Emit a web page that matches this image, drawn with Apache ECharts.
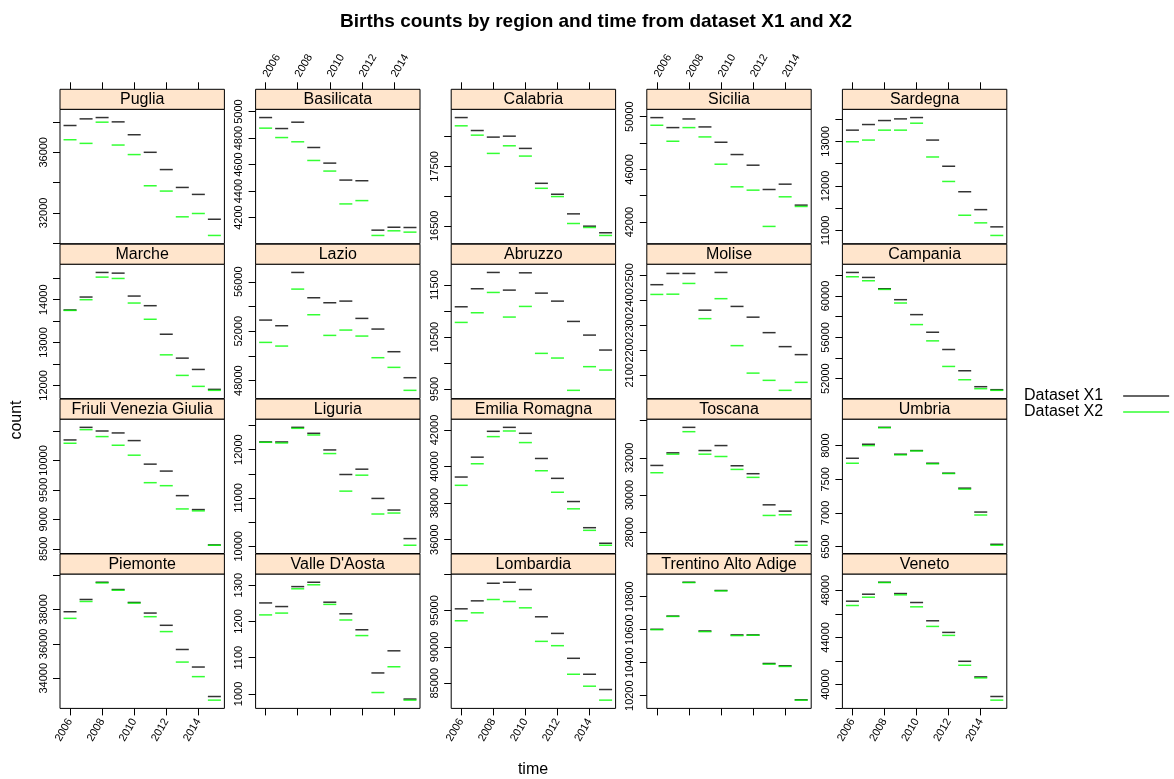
<!DOCTYPE html>
<html><head><meta charset="utf-8">
<script src="https://cdn.jsdelivr.net/npm/echarts@6/dist/echarts.min.js"></script>
<style>html,body{margin:0;padding:0;background:#fff}#c{width:1174px;height:779px}</style>
</head><body><div id="c"></div>
<script>
// ---------------- DATA ----------------
const years = [2006, 2007, 2008, 2009, 2010, 2011, 2012, 2013, 2014, 2015];
const xTickValues = [2006, 2008, 2010, 2012, 2014];
const regions = ['Piemonte', "Valle D'Aosta", 'Lombardia', 'Trentino Alto Adige', 'Veneto',
  'Friuli Venezia Giulia', 'Liguria', 'Emilia Romagna', 'Toscana', 'Umbria',
  'Marche', 'Lazio', 'Abruzzo', 'Molise', 'Campania',
  'Puglia', 'Basilicata', 'Calabria', 'Sicilia', 'Sardegna'];

const piemonteX1 = [37865, 38577, 39577, 39154, 38404, 37788, 37077, 35673, 34654, 32942];
const piemonteX2 = [37481, 38461, 39538, 39115, 38365, 37577, 36712, 34942, 34096, 32731];
const valleAostaX1 = [1251, 1241, 1296, 1308, 1253, 1221, 1177, 1058, 1119, 986];
const valleAostaX2 = [1218, 1223, 1290, 1301, 1247, 1204, 1161, 1004, 1075, 983];
const lombardiaX1 = [95228, 96324, 98744, 98881, 97877, 94132, 91849, 88425, 86233, 84133];
const lombardiaX2 = [93585, 94680, 96507, 96233, 95365, 90754, 90160, 86233, 84590, 82672];
const trentinoX1 = [10602, 10682, 10887, 10592, 10837, 10568, 10568, 10395, 10381, 10175];
const trentinoX2 = [10600, 10680, 10885, 10588, 10835, 10564, 10566, 10391, 10377, 10173];
const venetoX1 = [47070, 47662, 48676, 47718, 46958, 45408, 44422, 41972, 40648, 38986];
const venetoX2 = [46704, 47408, 48648, 47606, 46592, 44930, 44169, 41634, 40563, 38676];
const friuliX1 = [10349, 10563, 10501, 10468, 10338, 9938, 9820, 9403, 9166, 8565];
const friuliX2 = [10293, 10524, 10406, 10259, 10090, 9623, 9572, 9177, 9144, 8560];
const liguriaX1 = [12158, 12158, 12460, 12337, 11993, 11485, 11595, 10990, 10750, 10159];
const liguriaX2 = [12151, 12137, 12440, 12302, 11918, 11141, 11471, 10668, 10688, 10022];
const emiliaX1 = [39425, 40513, 41927, 42145, 41819, 40441, 39353, 38084, 36652, 35800];
const emiliaX2 = [38972, 40151, 41637, 41946, 41311, 39770, 38592, 37685, 36507, 35691];
const toscanaX1 = [31591, 32267, 33636, 32391, 32658, 31573, 31147, 29476, 29138, 27502];
const toscanaX2 = [31200, 32196, 33404, 32196, 32071, 31378, 30951, 28906, 28942, 27306];
const umbriaX1 = [7812, 8020, 8271, 7872, 7926, 7738, 7590, 7368, 7013, 6534];
const umbriaX2 = [7738, 8000, 8266, 7862, 7921, 7729, 7585, 7353, 6969, 6520];
const marcheX1 = [13760, 14062, 14636, 14620, 14085, 13860, 13194, 12636, 12372, 11907];
const marcheX2 = [13750, 14000, 14527, 14496, 13922, 13543, 12713, 12233, 11977, 11884];
const lazioX1 = [52902, 52444, 56754, 54707, 54303, 54437, 53037, 52175, 50343, 48241];
const lazioX2 = [51097, 50800, 55407, 53333, 51663, 52094, 51609, 49858, 49077, 47218];
const abruzzoX1 = [11083, 11430, 11744, 11404, 11737, 11346, 11192, 10801, 10538, 10250];
const abruzzoX2 = [10782, 10968, 11359, 10885, 11090, 10186, 10096, 9474, 9930, 9865];
const moliseX1 = [2463, 2508, 2508, 2361, 2512, 2376, 2333, 2271, 2215, 2183];
const moliseX2 = [2424, 2425, 2468, 2327, 2407, 2219, 2109, 2080, 2040, 2072];
const campaniaX1 = [62283, 61800, 60707, 59646, 58200, 56496, 54824, 52766, 51223, 50934];
const campaniaX2 = [61865, 61479, 60643, 59325, 57235, 55660, 53184, 51898, 51030, 50870];
const pugliaX1 = [37770, 38208, 38295, 38010, 37160, 36000, 34860, 33680, 33220, 31580];
const pugliaX2 = [36830, 36590, 37990, 36480, 35850, 33790, 33440, 31740, 31960, 30510];
const basilicataX1 = [4955, 4872, 4920, 4729, 4611, 4483, 4478, 4105, 4127, 4125];
const basilicataX2 = [4875, 4804, 4772, 4631, 4551, 4303, 4328, 4065, 4100, 4090];
const calabriaX1 = [18321, 18103, 17992, 18008, 17802, 17215, 17031, 16701, 16494, 16383];
const calabriaX2 = [18182, 18025, 17718, 17846, 17673, 17131, 16992, 16539, 16472, 16338];
const siciliaX1 = [49924, 49167, 49823, 49218, 48056, 47123, 46315, 44472, 44876, 43286];
const siciliaX2 = [49344, 48132, 49167, 48460, 46390, 44674, 44422, 41671, 43917, 43185];
const sardegnaX1 = [13253, 13379, 13469, 13506, 13536, 13030, 12442, 11869, 11467, 11080];
const sardegnaX2 = [12993, 13030, 13253, 13253, 13409, 12650, 12100, 11341, 11170, 10887];

// y tick positions and labelled ticks (region order)
const yTicks = [
  [34000, 36000, 38000, 40000], [1000, 1100, 1200, 1300], [85000, 90000, 95000, 100000],
  [10200, 10400, 10600, 10800], [38000, 40000, 42000, 44000, 46000, 48000],
  [8500, 9000, 9500, 10000, 10500], [10000, 10500, 11000, 11500, 12000, 12500],
  [36000, 38000, 40000, 42000], [28000, 30000, 32000, 34000], [6500, 7000, 7500, 8000],
  [12000, 12500, 13000, 13500, 14000, 14500], [48000, 50000, 52000, 54000, 56000],
  [9500, 10000, 10500, 11000, 11500], [2100, 2200, 2300, 2400, 2500],
  [52000, 54000, 56000, 58000, 60000, 62000],
  [30000, 32000, 34000, 36000, 38000], [4200, 4400, 4600, 4800, 5000],
  [16500, 17000, 17500, 18000], [42000, 44000, 46000, 48000, 50000],
  [11000, 11500, 12000, 12500, 13000, 13500]
];
const yLabels = [
  [34000, 36000, 38000], [1000, 1100, 1200, 1300], [85000, 90000, 95000],
  [10200, 10400, 10600, 10800], [40000, 44000, 48000],
  [8500, 9000, 9500, 10000], [10000, 11000, 12000],
  [36000, 38000, 40000, 42000], [28000, 30000, 32000], [6500, 7000, 7500, 8000],
  [12000, 13000, 14000], [48000, 52000, 56000],
  [9500, 10500, 11500], [2100, 2200, 2300, 2400, 2500],
  [52000, 56000, 60000],
  [32000, 36000], [4200, 4400, 4600, 4800, 5000],
  [16500, 17500], [42000, 46000, 50000],
  [11000, 12000, 13000]
];
const seriesX1 = [piemonteX1, valleAostaX1, lombardiaX1, trentinoX1, venetoX1, friuliX1, liguriaX1, emiliaX1, toscanaX1, umbriaX1,
  marcheX1, lazioX1, abruzzoX1, moliseX1, campaniaX1, pugliaX1, basilicataX1, calabriaX1, siciliaX1, sardegnaX1];
const seriesX2 = [piemonteX2, valleAostaX2, lombardiaX2, trentinoX2, venetoX2, friuliX2, liguriaX2, emiliaX2, toscanaX2, umbriaX2,
  marcheX2, lazioX2, abruzzoX2, moliseX2, campaniaX2, pugliaX2, basilicataX2, calabriaX2, siciliaX2, sardegnaX2];
const yLimitOverride = { 'Sicilia': [40360, 50555] };

// ---------------- LAYOUT ----------------
const FONT = "'Liberation Sans', Arial, Helvetica, sans-serif";
const PANEL_W = 164.4, PANEL_H = 134.4, STRIP_H = 20;
const colLeft = [60, 255.6, 451.2, 646.8, 842.4];
const rowTop = [109.3, 264.2, 419.1, 574.0];
const PAD = 0.07;
const plain = v => String(Math.round(v));

const grids = [], xAxes = [], yAxes = [], series = [], graphics = [];

regions.forEach((name, i) => {
  const col = i % 5, row = 3 - Math.floor(i / 5);
  const left = colLeft[col], top = rowTop[row];
  grids.push({ left, top, width: PANEL_W, height: PANEL_H, show: true, borderColor: '#000', borderWidth: 1,
    backgroundColor: 'transparent', outerBoundsMode: 'none' });

  const isTop = row === 0, isBottom = row === 3;
  const showX = (isTop && (col === 1 || col === 3)) || (isBottom && (col === 0 || col === 2 || col === 4));
  xAxes.push({
    gridIndex: i, type: 'value', min: 2005.375, max: 2015.625,
    position: isTop ? 'top' : 'bottom', offset: isTop ? STRIP_H : 0,
    axisLine: { show: false }, splitLine: { show: false },
    axisTick: { show: isTop || isBottom, length: 7, customValues: xTickValues, lineStyle: { color: '#000', width: 1 } },
    axisLabel: { show: showX, customValues: xTickValues, formatter: plain, rotate: isTop ? -60 : 60, fontSize: 11,
      margin: isTop ? 13 : 11, color: '#000', fontFamily: FONT, hideOverlap: false }
  });

  const all = seriesX1[i].concat(seriesX2[i]);
  let lo = Math.min(...all), hi = Math.max(...all);
  const r = hi - lo;
  let ymin = lo - PAD * r, ymax = hi + PAD * r;
  if (yLimitOverride[name]) { ymin = yLimitOverride[name][0]; ymax = yLimitOverride[name][1]; }
  const ticks = yTicks[i].filter(v => v >= ymin && v <= ymax);
  const labs = yLabels[i].filter(v => v >= ymin && v <= ymax);
  yAxes.push({
    gridIndex: i, type: 'value', min: ymin, max: ymax, position: 'left',
    axisLine: { show: false }, splitLine: { show: false },
    axisTick: { show: true, length: 7, customValues: ticks, lineStyle: { color: '#000', width: 1 } },
    axisLabel: { show: true, customValues: labs, formatter: plain, rotate: 90, fontSize: 11, margin: 11,
      color: '#000', fontFamily: FONT, hideOverlap: false }
  });

  series.push({
    name: 'Dataset X1', type: 'scatter', xAxisIndex: i, yAxisIndex: i,
    symbol: 'rect', symbolSize: [13, 1.5], itemStyle: { color: '#000000' },
    data: years.map((y, k) => [y, seriesX1[i][k]]), silent: true, z: 2
  });
  series.push({
    name: 'Dataset X2', type: 'scatter', xAxisIndex: i, yAxisIndex: i,
    symbol: 'rect', symbolSize: [13, 1.5], itemStyle: { color: '#00FF00' },
    data: years.map((y, k) => [y, seriesX2[i][k]]), silent: true, z: 3
  });

  graphics.push({
    type: 'rect', shape: { x: left, y: top - STRIP_H, width: PANEL_W, height: STRIP_H },
    style: { fill: '#FFE5CC', stroke: '#000', lineWidth: 1 }, z: 10
  });
  graphics.push({
    type: 'text', x: left + PANEL_W / 2, y: top - STRIP_H / 2 + 0.5,
    style: { text: name, fill: '#000', font: '16px ' + FONT, align: 'center', verticalAlign: 'middle' }, z: 11
  });
});

graphics.push({
  type: 'text', x: 17, y: 420, rotation: Math.PI / 2,
  style: { text: 'count', fill: '#000', font: '16px ' + FONT, align: 'center', verticalAlign: 'middle' }
});
graphics.push({
  type: 'text', x: 533, y: 770,
  style: { text: 'time', fill: '#000', font: '16px ' + FONT, align: 'center', verticalAlign: 'middle' }
});

const chart = echarts.init(document.getElementById('c'), null, { renderer: 'canvas' });
chart.setOption({
  animation: false,
  backgroundColor: '#fff',
  title: {
    text: 'Births counts by region and time from dataset X1 and X2',
    left: 335, top: 7,
    textStyle: { fontSize: 19, fontWeight: 'bold', color: '#000', fontFamily: FONT }
  },
  legend: {
    orient: 'vertical', left: 1019, top: 383, align: 'right',
    data: ['Dataset X1', 'Dataset X2'], icon: 'rect', itemWidth: 46, itemHeight: 1.5, itemGap: 0,
    textStyle: { fontSize: 16, lineHeight: 16, color: '#000', fontFamily: FONT, padding: [0, 15, 0, 0] },
    selectedMode: false
  },
  grid: grids, xAxis: xAxes, yAxis: yAxes, series,
  graphic: graphics
});
</script>
</body></html>
